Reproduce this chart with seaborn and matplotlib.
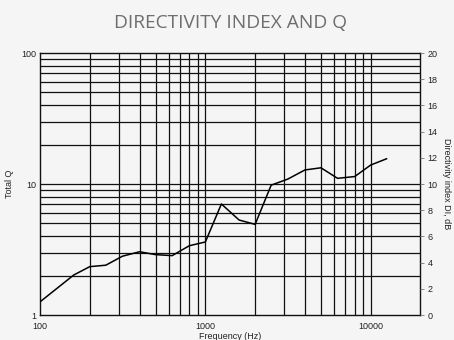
import numpy as np
import pandas as pd
import matplotlib
matplotlib.use('Agg')
import matplotlib.pyplot as plt
import seaborn as sns
from matplotlib.ticker import FixedLocator, NullFormatter, NullLocator

# Data (third-octave frequencies)
freq_hz = [100, 160, 200, 250, 315, 400, 500, 630, 800, 1000, 1250, 1600,
           2000, 2500, 3150, 4000, 5000, 6300, 8000, 10000, 12500]
total_q = [1.26, 2.02, 2.34, 2.40, 2.81, 3.04, 2.89, 2.84, 3.38, 3.61, 7.04,
           5.31, 4.92, 9.8, 10.9, 12.8, 13.3, 11.05, 11.4, 13.96, 15.6]

x_ticks = [100, 1000, 10000]
x_tick_labels = ['100', '1000', '10000']
y_ticks = [1, 10, 100]
y_tick_labels = ['1', '10', '100']
di_ticks = [0, 2, 4, 6, 8, 10, 12, 14, 16, 18, 20]

df = pd.DataFrame({'freq': freq_hz, 'q': total_q})

bg = '#f5f5f5'
sns.set_style('ticks', {'axes.facecolor': bg, 'figure.facecolor': bg})
plt.rcParams['font.family'] = ['Liberation Sans', 'DejaVu Sans']

fig = plt.figure(figsize=(4.54, 3.40), dpi=100)
ax = fig.add_axes([0.0881, 0.0735, 0.8381, 0.7706])

ax.set_xscale('log')
ax.set_yscale('log')
ax.set_xlim(100, 20000)
ax.set_ylim(1, 100)

# grid: every 1-9 multiple in each decade
xgrid = [m * d for d in (100, 1000) for m in range(2, 10)] + [1000, 10000]
ygrid = [m * d for d in (1, 10) for m in range(2, 10)] + [10]
for gx in xgrid:
    ax.axvline(gx, color='#111111', lw=0.9, zorder=1)
for gy in ygrid:
    ax.axhline(gy, color='#111111', lw=0.9, zorder=1)

sns.lineplot(data=df, x='freq', y='q', color='black', lw=1.1, ax=ax, zorder=3)

ax.xaxis.set_major_locator(FixedLocator(x_ticks))
ax.set_xticklabels(x_tick_labels)
ax.xaxis.set_minor_locator(NullLocator())
ax.xaxis.set_minor_formatter(NullFormatter())
ax.yaxis.set_major_locator(FixedLocator(y_ticks))
ax.set_yticklabels(y_tick_labels)
ax.yaxis.set_minor_locator(NullLocator())
ax.yaxis.set_minor_formatter(NullFormatter())
ax.tick_params(axis='x', length=0, labelsize=6.5, pad=5, colors='#222222')
ax.tick_params(axis='y', length=0, labelsize=6.5, pad=3, colors='#222222')

for s in ax.spines.values():
    s.set_color('#111111')
    s.set_linewidth(1.0)
    s.set_visible(True)

ax.set_xlabel('Frequency (Hz)', fontsize=6.5, labelpad=1, color='#222222')
ax.set_ylabel('Total Q', fontsize=6.5, labelpad=5, color='#222222')

ax2 = ax.twinx()
ax2.set_ylim(0, 20)
ax2.set_yticks(di_ticks)
ax2.tick_params(axis='y', length=3, width=0.6, color='#777777', labelsize=6.5,
                pad=2, labelcolor='#222222')
for s in ax2.spines.values():
    s.set_visible(False)
ax2.set_ylabel('Directivity index DI, dB', fontsize=6.5, rotation=270,
               labelpad=10, color='#222222')

fig.text(0.507, 0.932, 'DIRECTIVITY INDEX AND Q', ha='center', va='center',
         fontsize=13.8, color='#6e6e6e', family=['Open Sans', 'DejaVu Sans'])

fig.savefig('out.png', dpi=100, facecolor=bg)
